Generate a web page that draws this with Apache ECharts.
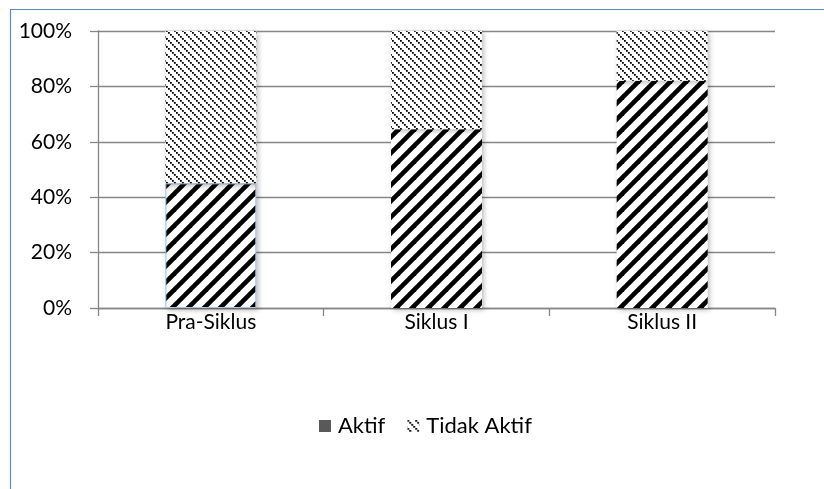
<!DOCTYPE html>
<html>
<head>
<meta charset="utf-8">
<script src="https://cdn.jsdelivr.net/npm/echarts@6/dist/echarts.min.js"></script>
<style>
  html, body { margin: 0; padding: 0; background: #fff; }
  #chart { width: 824px; height: 489px; }
</style>
</head>
<body>
<div id="chart"></div>
<script>
// Share of active vs. inactive students per cycle (percent)
const categories = ['Pra-Siklus', 'Siklus I', 'Siklus II'];
const aktif = [45, 64.5, 82];
const tidakAktif = [55, 35.5, 18];
const yTicks = [0, 20, 40, 60, 80, 100];

// Bold upward diagonal stripes
function stripePattern() {
  const s = 16;
  const c = document.createElement('canvas');
  c.width = s; c.height = s;
  const g = c.getContext('2d');
  g.fillStyle = '#fff';
  g.fillRect(0, 0, s, s);
  g.strokeStyle = '#000';
  g.lineWidth = 4.6;
  g.lineCap = 'square';
  for (const off of [-s, 0, s]) {
    g.beginPath();
    g.moveTo(off, s);
    g.lineTo(off + s, 0);
    g.stroke();
  }
  return c;
}

// Fine dotted downward diagonal lines
function dottedPattern() {
  const s = 8;
  const c = document.createElement('canvas');
  c.width = s; c.height = s;
  const g = c.getContext('2d');
  g.fillStyle = '#fff';
  g.fillRect(0, 0, s, s);
  g.fillStyle = '#000';
  for (let i = 0; i < s; i += 2) {
    g.fillRect(i, i, 1.8, 1.8);
  }
  g.fillStyle = '#666';
  for (let i = 1; i < s; i += 2) {
    g.fillRect(i, i, 1.2, 1.2);
  }
  return c;
}

const chart = echarts.init(document.getElementById('chart'), null, { renderer: 'canvas' });
const axisGray = '#868686';
const font = 'Lato';

chart.setOption({
  animation: false,
  textStyle: { fontFamily: font },
  graphic: [{
    type: 'rect',
    left: 8, top: 7,
    shape: { x: 0, y: 0, width: 840, height: 500 },
    style: { fill: 'none', stroke: '#5b8ac6', lineWidth: 1.2 },
    silent: true, z: -10
  }],
  legend: {
    left: 314,
    top: 410,
    itemWidth: 12,
    itemHeight: 12,
    itemGap: 22,
    textStyle: { fontFamily: font, fontSize: 22, color: '#000', padding: [0, 0, 0, 2] },
    data: [
      { name: 'Aktif', icon: 'rect', itemStyle: { color: '#595959', shadowBlur: 0 } },
      { name: 'Tidak Aktif', icon: 'rect', itemStyle: { shadowBlur: 0 } }
    ]
  },
  grid: { left: 98, right: 49, top: 31, bottom: 181 },
  xAxis: {
    type: 'category',
    data: categories,
    axisLine: { lineStyle: { color: axisGray, width: 1.3 } },
    axisTick: { show: true, length: 8, lineStyle: { color: axisGray, width: 1.3 } },
    axisLabel: { fontFamily: font, fontSize: 21, color: '#000', margin: 4 }
  },
  yAxis: {
    type: 'value',
    min: yTicks[0],
    max: yTicks[yTicks.length - 1],
    interval: yTicks[1] - yTicks[0],
    axisLine: { show: true, lineStyle: { color: axisGray, width: 1.3 } },
    axisTick: { show: true, length: 8, lineStyle: { color: axisGray, width: 1.3 } },
    splitLine: { lineStyle: { color: axisGray, width: 1.3 } },
    axisLabel: {
      fontFamily: font, fontSize: 21, color: '#000', margin: 26,
      formatter: v => v + '%'
    }
  },
  series: [
    {
      name: 'Aktif',
      type: 'bar',
      stack: 'total',
      barWidth: 91,
      data: aktif.map((v, i) => i === 0
        ? { value: v, itemStyle: { borderColor: '#a9c4eb', borderWidth: 1 } }
        : v),
      itemStyle: {
        color: { image: stripePattern(), repeat: 'repeat' },
        shadowBlur: 5, shadowColor: 'rgba(0,0,0,0.25)', shadowOffsetX: 2, shadowOffsetY: 2
      }
    },
    {
      name: 'Tidak Aktif',
      type: 'bar',
      stack: 'total',
      barWidth: 91,
      data: tidakAktif,
      itemStyle: {
        color: { image: dottedPattern(), repeat: 'repeat' },
        shadowBlur: 5, shadowColor: 'rgba(0,0,0,0.25)', shadowOffsetX: 2, shadowOffsetY: 2
      }
    }
  ]
});
</script>
</body>
</html>
